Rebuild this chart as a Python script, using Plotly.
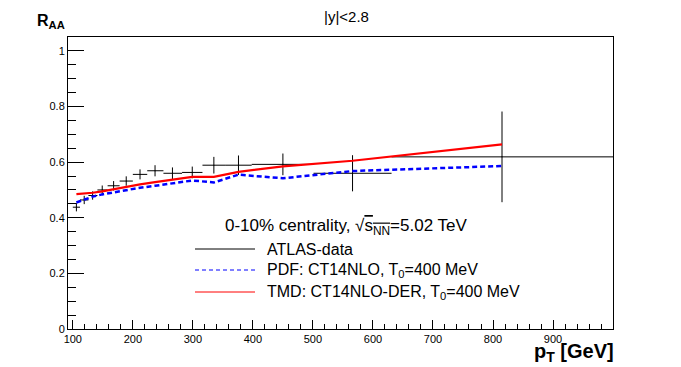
import plotly.graph_objects as go

# ATLAS R_AA data, 0-10% centrality
pt = [106, 119, 133, 149, 168, 189, 212, 237, 266, 299, 335, 376, 450, 566, 815]
pt_lo = [100, 112, 126, 141, 158, 178, 200, 224, 251, 282, 316, 355, 398, 501, 631]
pt_hi = [112, 126, 141, 158, 178, 200, 224, 251, 282, 316, 355, 398, 501, 631, 1000]
raa = [0.438, 0.464, 0.480, 0.500, 0.515, 0.532, 0.556, 0.569, 0.560, 0.563,
       0.589, 0.589, 0.592, 0.560, 0.619]
raa_err = [0.015, 0.015, 0.015, 0.016, 0.017, 0.017, 0.018, 0.020, 0.021, 0.021,
           0.030, 0.035, 0.039, 0.065, 0.163]

# theory curves
pdf_raa = [0.455, 0.466, 0.476, 0.484, 0.492, 0.500, 0.508, 0.515, 0.523, 0.534,
           0.527, 0.555, 0.542, 0.568, 0.586]
tmd_raa = [0.485, 0.487, 0.490, 0.495, 0.503, 0.512, 0.520, 0.528, 0.537, 0.547,
           0.547, 0.565, 0.585, 0.605, 0.664]

FONT = "Liberation Sans, Arial, Helvetica, sans-serif"

fig = go.Figure()

fig.add_trace(go.Scatter(
    x=pt, y=raa, mode="markers", name="ATLAS-data",
    marker=dict(size=1, color="black"),
    error_x=dict(type="data", symmetric=False,
                 array=[h - p for h, p in zip(pt_hi, pt)],
                 arrayminus=[p - l for p, l in zip(pt, pt_lo)],
                 width=0, thickness=1, color="black"),
    error_y=dict(type="data", array=raa_err, width=0, thickness=1, color="black"),
    showlegend=False))

fig.add_trace(go.Scatter(x=pt, y=pdf_raa, mode="lines", showlegend=False,
                         line=dict(color="#0000ff", width=2.5, dash="5px,3px")))
fig.add_trace(go.Scatter(x=pt, y=tmd_raa, mode="lines", showlegend=False,
                         line=dict(color="#ff0000", width=2.2)))

# plot area in pixels: x 68..613, y 37..329
def px(x):
    return (x - 68) / 545.0

def py(y):
    return (329 - y) / 292.0

shapes = []
annots = []
legend_rows = [("ATLAS-data", "black", "solid", 249),
               ("PDF: CT14NLO, T<sub>0</sub>=400 MeV", "#0000ff", "4px,3px", 270),
               ("TMD: CT14NLO-DER, T<sub>0</sub>=400 MeV", "#ff0000", "solid", 292)]
for text, col, dash, yy in legend_rows:
    shapes.append(dict(type="line", xref="paper", yref="paper",
                       x0=px(195), x1=px(255), y0=py(yy), y1=py(yy),
                       line=dict(color=col, width=1, dash=dash)))
    annots.append(dict(text=text, xref="paper", yref="paper", x=px(265), y=py(yy),
                       xanchor="left", yanchor="middle", showarrow=False,
                       font=dict(size=16, color="black", family=FONT)))

annots.append(dict(
    text="0-10% centrality, √<span style='text-decoration:overline'>s<sub>NN</sub></span>=5.02 TeV",
    xref="paper", yref="paper", x=px(346), y=py(227), xanchor="center", yanchor="middle",
    showarrow=False, font=dict(size=17, color="black", family=FONT)))

annots.append(dict(text="|y|<2.8", xref="paper", yref="paper", x=px(346), y=py(16),
                   xanchor="center", yanchor="middle", showarrow=False,
                   font=dict(size=15, color="black", family=FONT)))
annots.append(dict(text="<b>R<sub>AA</sub></b>", xref="paper", yref="paper",
                   x=px(35), y=py(22), xanchor="left", yanchor="middle", showarrow=False,
                   font=dict(size=16, color="black", family=FONT)))
annots.append(dict(text="<b>p<sub>T</sub> [GeV]</b>", xref="paper", yref="paper",
                   x=px(616), y=py(352), xanchor="right", yanchor="middle", showarrow=False,
                   font=dict(size=20, color="black", family=FONT)))

fig.update_layout(
    width=681, height=367,
    margin=dict(l=68, r=68, t=37, b=38),
    paper_bgcolor="white", plot_bgcolor="white",
    font=dict(family=FONT, size=11, color="black"),
    shapes=shapes, annotations=annots,
    xaxis=dict(range=[92, 999.9], tick0=100, dtick=100, ticks="inside", ticklen=9,
               tickwidth=1, tickcolor="black", showgrid=False, zeroline=False,
               showline=True, linecolor="black", linewidth=1, mirror=True,
               tickfont=dict(size=11),
               minor=dict(ticks="inside", ticklen=5, dtick=20, tick0=100,
                          tickcolor="black", showgrid=False)),
    yaxis=dict(range=[0, 1.05], tick0=0, dtick=0.2, ticks="inside", ticklen=16,
               tickwidth=1, tickcolor="black", showgrid=False, zeroline=False,
               showline=True, linecolor="black", linewidth=1, mirror=True,
               tickfont=dict(size=11),
               minor=dict(ticks="inside", ticklen=8, dtick=0.05, tick0=0,
                          tickcolor="black", showgrid=False)),
)

fig.write_html("out.html", config={"displayModeBar": False},
               post_script="document.body.style.margin='0';")
